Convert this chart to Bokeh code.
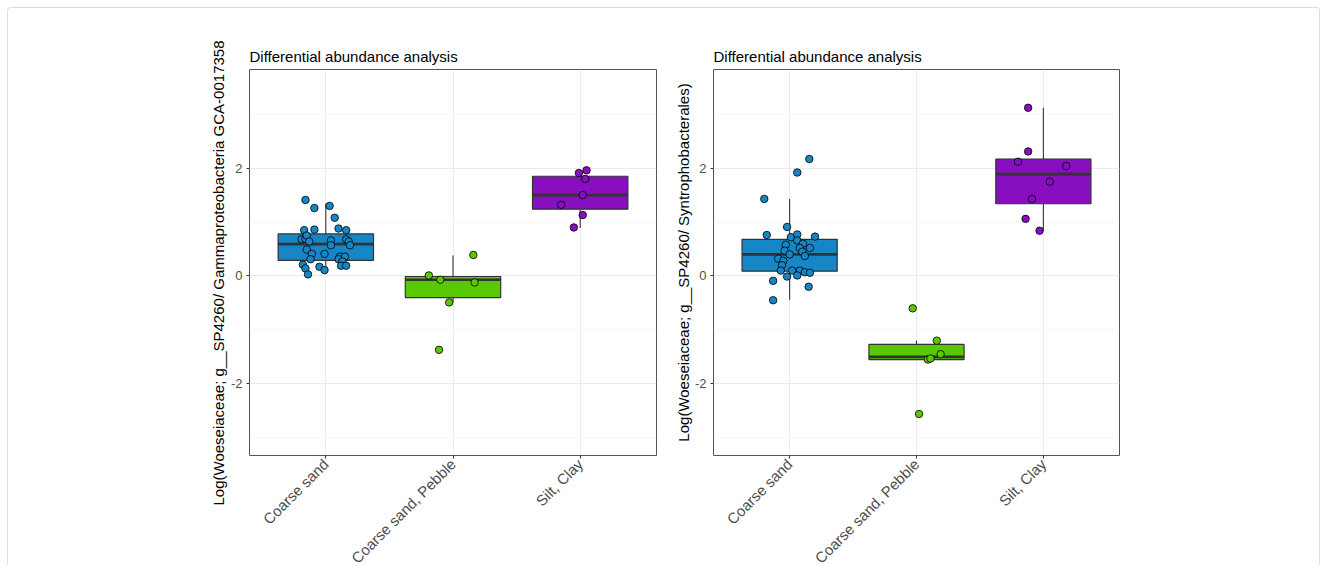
from bokeh.plotting import figure
from bokeh.models import Range1d, FixedTicker, Title, ColumnDataSource
from bokeh.layouts import row
from bokeh.embed import file_html
from bokeh.resources import INLINE

categories = ["Coarse sand", "Coarse sand, Pebble", "Silt, Clay"]
colors = ["#1686C6", "#5AC800", "#870FBF"]
y_ticks = [-2, 0, 2]
y_minor = [-3, -1, 1, 3]

# ---- left panel (Gammaproteobacteria) ----
left_title = "Differential abundance analysis"
left_ylabel = "Log(Woeseiaceae; g__SP4260/ Gammaproteobacteria GCA-0017358"
left_cs_y = [1.41, 1.26, 1.30, 1.08, 0.85, 0.86, 0.88, 0.85, 0.68, 0.69, 0.75, 0.66, 0.57,
             0.68, 0.64, 0.57, 0.49, 0.41, 0.31, 0.41, 0.36, 0.36, 0.31, 0.27, 0.19, 0.19,
             0.21, 0.14, 0.03, 0.17, 0.11, 0.64]
left_cs_dx = [-0.16, -0.09, 0.03, 0.07, -0.17, -0.09, 0.10, 0.16, -0.19, -0.16, -0.15, 0.04, 0.04,
              0.16, 0.18, 0.19, -0.15, -0.11, -0.12, -0.01, 0.11, 0.15, 0.10, 0.13, 0.12, 0.16,
              -0.18, -0.16, -0.14, -0.05, -0.01, -0.13]
left_pb_y = [0.39, 0.01, -0.07, -0.12, -0.49, -1.37]
left_pb_dx = [0.16, -0.19, -0.10, 0.17, -0.03, -0.11]
left_sc_y = [1.96, 1.91, 1.80, 1.50, 1.32, 1.13, 0.90]
left_sc_dx = [0.05, -0.01, 0.04, 0.02, -0.15, 0.02, -0.05]
# box stats: lower whisker, q1, median, q3, upper whisker
left_lo = [0.03, -0.49, 0.89]
left_q1 = [0.29, -0.40, 1.24]
left_med = [0.59, -0.07, 1.50]
left_q3 = [0.78, -0.01, 1.85]
left_hi = [1.34, 0.38, 1.96]

# ---- right panel (Syntrophobacterales) ----
right_title = "Differential abundance analysis"
right_ylabel = "Log(Woeseiaceae; g__SP4260/ Syntrophobacterales)"
right_cs_y = [2.17, 1.92, 1.43, 0.91, 0.76, 0.72, 0.77, 0.73, 0.66, 0.58, 0.60, 0.52, 0.52, 0.47,
              0.45, 0.40, 0.37, 0.32, 0.28, 0.20, 0.10, 0.10, 0.10, 0.07, 0.06, -0.01, 0.01,
              -0.09, -0.20, -0.45]
right_cs_dx = [0.155, 0.06, -0.20, -0.02, -0.18, 0.01, 0.06, 0.20, 0.06, -0.03, 0.105, 0.08, 0.16,
               -0.04, 0.10, 0.0, 0.12, -0.09, -0.05, -0.06, -0.07, 0.02, 0.08, 0.12, 0.16, -0.02,
               0.06, -0.13, 0.15, -0.13]
right_pb_y = [-0.60, -1.20, -1.45, -1.55, -1.53, -2.56]
right_pb_dx = [-0.03, 0.16, 0.19, 0.09, 0.11, 0.02]
right_sc_y = [3.12, 2.31, 2.12, 2.04, 1.75, 1.43, 1.06, 0.84]
right_sc_dx = [-0.12, -0.12, -0.20, 0.18, 0.05, -0.09, -0.14, -0.03]
right_lo = [-0.44, -1.55, 0.84]
right_q1 = [0.09, -1.55, 1.34]
right_med = [0.40, -1.50, 1.89]
right_q3 = [0.68, -1.27, 2.17]
right_hi = [1.43, -1.20, 3.12]

FONT = "Liberation Sans"
BOX_W = 0.75


def make_panel(title, groups_y, groups_dx, lo, q1, med, q3, hi, fw, mb_left, mb_right):
    p = figure(output_backend="svg", toolbar_location=None,
               frame_width=fw, frame_height=386,
               x_range=Range1d(0.4, 3.6), y_range=Range1d(-3.33, 3.83),
               min_border_left=mb_left, min_border_right=mb_right,
               min_border_top=61, min_border_bottom=0,
               background_fill_color="white", border_fill_color="white")
    p.title.text = title
    p.title.text_font = FONT
    p.title.text_font_size = "15px"
    p.title.text_font_style = "normal"
    p.title.text_color = "black"
    p.title.align = "left"
    p.title.standoff = 9
    p.outline_line_color = "#555555"
    p.outline_line_width = 1

    xt = FixedTicker(ticks=[1, 2, 3])
    yt = FixedTicker(ticks=y_ticks, minor_ticks=y_minor)
    p.xaxis.ticker = xt
    p.xgrid.ticker = xt
    p.yaxis.ticker = yt
    p.ygrid.ticker = yt
    p.xaxis.major_label_overrides = {i + 1: c for i, c in enumerate(categories)}
    p.yaxis.major_label_overrides = {t: str(t) for t in y_ticks}
    for ax in (p.xaxis, p.yaxis):
        ax.axis_line_color = None
        ax.major_tick_in = 0
        ax.major_tick_out = 3
        ax.major_tick_line_color = "#333333"
        ax.minor_tick_line_color = None
        ax.major_label_text_font = FONT
        ax.major_label_text_color = "#4d4d4d"
        ax.major_label_standoff = 3
    p.xaxis.major_label_text_font_size = "15px"
    p.yaxis.major_label_text_font_size = "13px"
    p.xaxis.major_label_orientation = 0.785398
    p.xgrid.grid_line_color = "#ebebeb"
    p.ygrid.grid_line_color = "#ebebeb"
    p.xgrid.grid_line_width = 1.1
    p.ygrid.grid_line_width = 1.1
    p.ygrid.minor_grid_line_color = "#f3f3f3"
    p.ygrid.minor_grid_line_width = 0.7

    xs = [1, 2, 3]
    box = ColumnDataSource(dict(x=xs, lo=lo, q1=q1, med=med, q3=q3, hi=hi, c=colors,
                                l=[x - BOX_W / 2 for x in xs], r=[x + BOX_W / 2 for x in xs]))
    p.segment(x0="x", y0="q3", x1="x", y1="hi", source=box, line_color="#333333", line_width=1.1)
    p.segment(x0="x", y0="lo", x1="x", y1="q1", source=box, line_color="#333333", line_width=1.1)
    p.quad(left="l", right="r", bottom="q1", top="q3", source=box, fill_color="c",
           line_color="#333333", line_width=1.2)
    p.segment(x0="l", y0="med", x1="r", y1="med", source=box, line_color="#333333", line_width=2.6)

    for i, (ys, dxs) in enumerate(zip(groups_y, groups_dx)):
        pts = ColumnDataSource(dict(x=[i + 1 + d for d in dxs], y=ys))
        p.scatter(x="x", y="y", source=pts, size=7.5, fill_color=colors[i],
                  line_color="black", line_width=0.8)
    return p


p1 = make_panel(left_title, [left_cs_y, left_pb_y, left_sc_y],
                [left_cs_dx, left_pb_dx, left_sc_dx],
                left_lo, left_q1, left_med, left_q3, left_hi, 407, 241, 8)
p1.add_layout(Title(text=left_ylabel, align="left", text_font=FONT, text_font_size="15px",
                    text_font_style="normal", text_color="black", offset=-50, standoff=2), "left")

p2 = make_panel(right_title, [right_cs_y, right_pb_y, right_sc_y],
                [right_cs_dx, right_pb_dx, right_sc_dx],
                right_lo, right_q1, right_med, right_q3, right_hi, 406, 49, 200)
p2.yaxis.axis_label = right_ylabel
p2.yaxis.axis_label_text_font = FONT
p2.yaxis.axis_label_text_font_size = "15px"
p2.yaxis.axis_label_text_font_style = "normal"
p2.yaxis.axis_label_text_color = "black"
p2.yaxis.axis_label_standoff = 0

layout = row(p1, p2, styles={"margin": "7px 0 0 7px", "border": "1px solid #dddddd",
                             "border-bottom": "none", "border-radius": "4px 4px 0 0"})

open("out.html", "w").write(file_html(layout, INLINE))
